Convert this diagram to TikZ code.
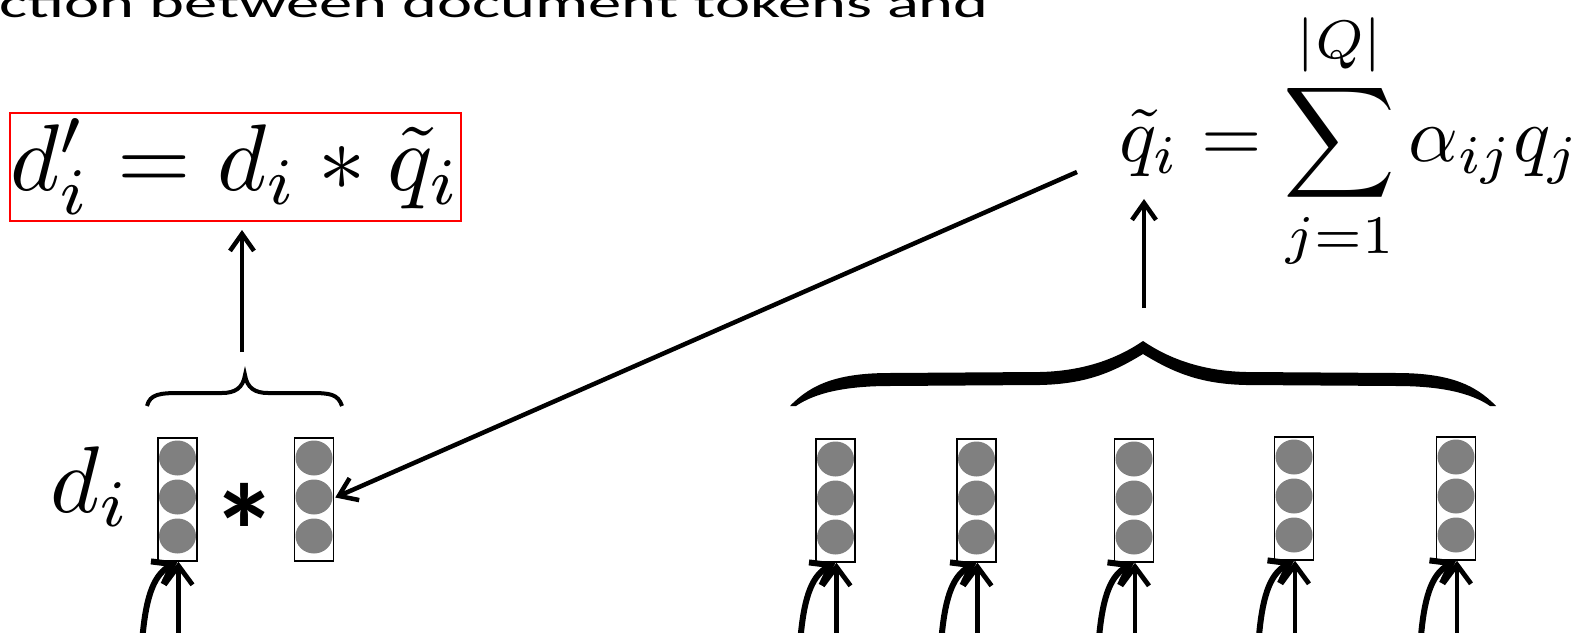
\documentclass[tikz,border=0pt]{standalone}
\usepackage{graphicx}
\usepackage{fontspec}
\newfontfamily\calibrifont{Carlito}
\usetikzlibrary{arrows.meta,calc}
\tikzset{
  arr/.style={-{Straight Barb[length=17bp,width=24bp]}, line width=4.5bp},
  upar/.style={-{Straight Barb[length=19bp,width=28bp]}, line width=4.8bp},
  curvar/.style={-{Straight Barb[length=18bp,width=26bp]}, line width=6bp},
  vbox/.style={draw, line width=1.5bp, minimum width=39bp, minimum height=123bp, inner sep=0},
  ballc/.style={fill=black!50},
  mathnode/.style={inner sep=0},
}
\newcommand\vecstack[3]{%
  \foreach \dy in {-41.5,-2.5,36.5}{\fill[ballc] (#2,{#3+(\dy)}) ellipse [x radius=18.5bp, y radius=17.5bp];}
  \node[vbox] (#1) at (#2,#3) {};
}
\newcommand\inarrows[1]{%
  \coordinate (#1s) at ($(#1.south)+(1,75)$);
  \coordinate (#1c) at ($(#1.south)+(-35,75)$);
  \draw[upar] (#1s) -- ($(#1.south)+(1,0)$);
  \draw[curvar] (#1c) .. controls +(4,-45) and +(-22,12) .. (#1.south);
}
\begin{document}
\begin{tikzpicture}[x=1bp,y=-1bp]
\useasboundingbox (0,0) rectangle (1577,633);
\clip (0,0) rectangle (1577,633);
% title (cut off at the top edge)
\node[font=\calibrifont\fontsize{66.5bp}{70bp}\selectfont, anchor=base west, inner sep=0] (title) at (-1,18) {\scalebox{1}[0.62]{ction between document tokens and}};
% red formula
\node[mathnode, draw=red, line width=2bp, minimum width=449bp, minimum height=108bp] (dp) at (235.5,167) {\scalebox{9.5}{$d'_i = d_i * \tilde{q}_i$}};
% sum formula
\node[mathnode, anchor=base west] (sumf) at (1119,162) {\scalebox{7.8}{$\displaystyle \tilde{q}_i = \sum_{j=1}^{|Q|} \alpha_{ij} q_j$}};
% d_i label
\node[mathnode, anchor=base west] (dlab) at (50,512) {\scalebox{9.5}{$d_i$}};
% vectors
\vecstack{dv}{177.5}{499.5}
\vecstack{qv}{314}{499.5}
\vecstack{v1}{835.5}{500.5}
\vecstack{v2}{976.5}{500.5}
\vecstack{v3}{1134}{500.5}
\vecstack{v4}{1294}{498.5}
\vecstack{v5}{1456}{498.5}
% asterisk
\node[font=\calibrifont\bfseries\fontsize{133bp}{140bp}\selectfont, inner sep=0, anchor=base] (star) at (245,578) {*};
% small brace
\draw[line width=4bp] (147,406) .. controls (150,394) and (160,393) .. (180,393) -- (222,393) .. controls (235,393) and (243,388) .. (245,375) .. controls (247,388) and (255,393) .. (268,393) -- (310,393) .. controls (330,393) and (338,394) .. (342,406);
% big brace
\fill (790,406) .. controls (812,383) and (840,373) .. (890,373) -- (1040,372) .. controls (1085,371) and (1118,358) .. (1143,341)
  .. controls (1168,358) and (1201,371) .. (1246,372) -- (1396,373) .. controls (1446,373) and (1474,383) .. (1496,406)
  -- (1490,406) .. controls (1471,393) and (1441,386) .. (1396,386) -- (1246,385) .. controls (1201,384) and (1174,373) .. (1143,354)
  .. controls (1112,373) and (1085,384) .. (1040,385) -- (890,386) .. controls (845,386) and (815,393) .. (796,406) -- cycle;
% arrows up
\coordinate (smalltip) at (242,352);
\draw[arr, shorten >=8bp] (smalltip) -- (smalltip |- dp.south);
\coordinate (bigtip) at (1144,308);
\coordinate (qtarget) at (1144,199);
\draw[arr] (bigtip) -- (qtarget);
% long arrow
\coordinate (lstart) at (1077,172);
\draw[arr] (lstart) -- ($(qv.east)+(1,-2)$);
% bottom arrows
\inarrows{dv}
\inarrows{v1}
\inarrows{v2}
\inarrows{v3}
\inarrows{v4}
\inarrows{v5}
\end{tikzpicture}
\end{document}
